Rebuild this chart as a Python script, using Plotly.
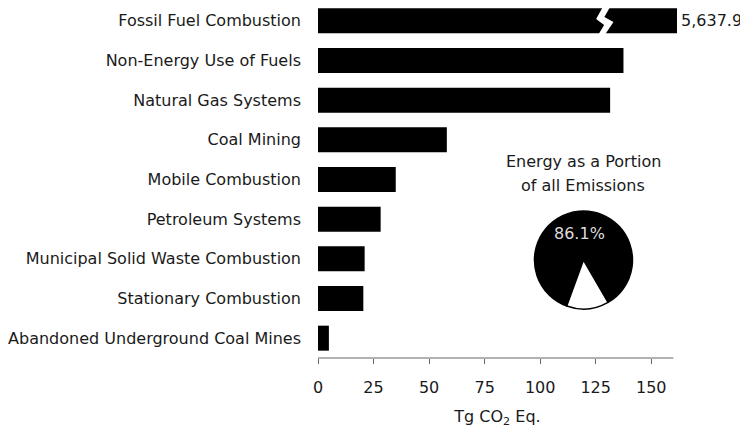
import plotly.graph_objects as go

# ---- data ----------------------------------------------------------------------
sources = [
    "Fossil Fuel Combustion",
    "Non-Energy Use of Fuels",
    "Natural Gas Systems",
    "Coal Mining",
    "Mobile Combustion",
    "Petroleum Systems",
    "Municipal Solid Waste Combustion",
    "Stationary Combustion",
    "Abandoned Underground Coal Mines",
]
emissions = [5637.9, 137.5, 131.5, 58.0, 35.0, 28.2, 21.0, 20.4, 4.9]

energy_share = 86.1
pie_labels = ["Energy", "Other"]
pie_values = [energy_share, round(100 - energy_share, 1)]

x_ticks = [0, 25, 50, 75, 100, 125, 150]
x_max = 161.6        # right edge of the plot; the huge bar is cut off here
axis_end = 160
break_at = 130       # where the zigzag break sits on the big bar

FONT = "Tahoma, DejaVu Sans, sans-serif"
TXT = "#1a1a1a"
FS = 16

shown = [min(v, x_max) for v in emissions]

fig = go.Figure()
fig.add_trace(go.Bar(
    x=shown,
    y=sources,
    orientation="h",
    width=0.63,
    marker=dict(color="#000000", line=dict(width=0)),
    hoverinfo="skip",
    showlegend=False,
))

# zigzag break on the truncated bar (white lightning shape)
zz = [(-1.9, -0.34), (1.4, -0.34), (-1.1, -0.096), (3.0, 0.03),
      (-0.7, 0.34), (-3.7, 0.34), (-1.2, 0.106), (-4.8, -0.045)]
path = "M " + " L ".join(f"{break_at + dx},{dy}" for dx, dy in zz) + " Z"
fig.add_shape(type="path", path=path, xref="x", yref="y",
              fillcolor="white", line=dict(width=0), layer="above")

# value label for the truncated bar
fig.add_annotation(x=x_max, y=sources[0], xref="x", yref="y",
                   text=f"{emissions[0]:,.1f}", showarrow=False,
                   xanchor="left", xshift=2, font=dict(size=FS, color=TXT))

# x axis baseline only up to 160
fig.add_shape(type="line", x0=0, x1=axis_end, y0=0, y1=0, xref="x", yref="paper",
              line=dict(color="#666666", width=1.2))

# inset pie
fig.add_trace(go.Pie(
    labels=pie_labels,
    values=pie_values,
    sort=False,
    rotation=200,
    textinfo="none",
    hoverinfo="skip",
    marker=dict(colors=["#000000", "#ffffff"], line=dict(color="#000000", width=1.5)),
    domain=dict(x=[0.603, 0.876], y=[0.140, 0.420]),
    showlegend=False,
))
fig.add_annotation(x=0.7296, y=0.357, xref="paper", yref="paper",
                   xanchor="center", yanchor="middle",
                   text=f"{energy_share}%", showarrow=False,
                   font=dict(size=FS, color="#dddddd"))
fig.add_annotation(x=0.739, y=0.560, xref="paper", yref="paper",
                   xanchor="center", yanchor="middle",
                   text="Energy as a Portion", showarrow=False,
                   font=dict(size=FS, color=TXT))
fig.add_annotation(x=0.739, y=0.494, xref="paper", yref="paper",
                   xanchor="center", yanchor="middle",
                   text="of all Emissions", showarrow=False,
                   font=dict(size=FS, color=TXT))

# page body adds 8px of margin, so the figure is 8px smaller and margins shifted
fig.update_layout(
    width=740,
    height=422,
    margin=dict(l=310, r=71, t=0, b=72),
    paper_bgcolor="white",
    plot_bgcolor="white",
    font=dict(family=FONT, size=FS, color=TXT),
    xaxis=dict(
        range=[0, x_max],
        tickvals=x_ticks,
        ticks="outside",
        ticklen=5,
        tickcolor="#666666",
        ticklabelstandoff=10,
        showline=False,
        showgrid=False,
        zeroline=False,
        title=dict(text="Tg CO<sub>2</sub> Eq.", standoff=14, font=dict(size=FS)),
        tickfont=dict(size=FS),
    ),
    yaxis=dict(
        range=[8.5, -0.323],
        showline=False,
        showgrid=False,
        zeroline=False,
        ticks="",
        ticklabelstandoff=16,
        tickfont=dict(size=FS),
    ),
)

fig.write_html("out.html")
